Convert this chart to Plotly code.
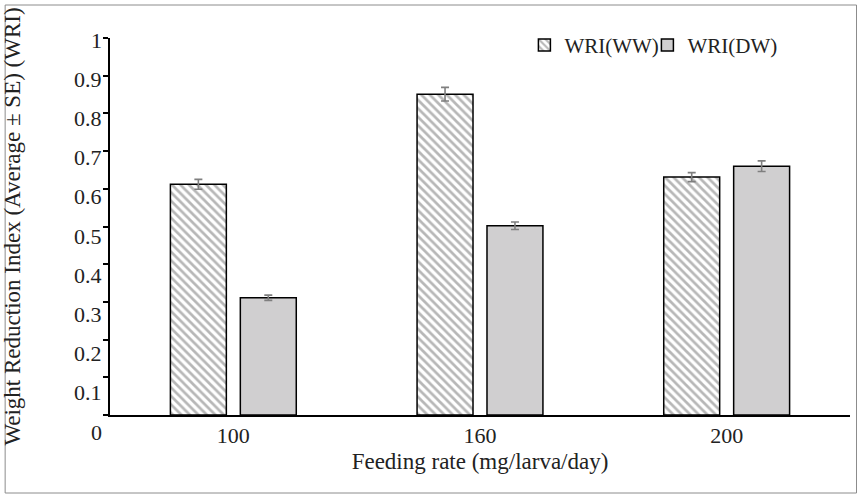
import plotly.graph_objects as go

categories = ["100", "160", "200"]
wri_ww = [0.612, 0.851, 0.631]
wri_ww_se = [0.013, 0.018, 0.012]
wri_dw = [0.311, 0.502, 0.660]
wri_dw_se = [0.007, 0.010, 0.014]
y_tick_vals = [0, 0.1, 0.2, 0.3, 0.4, 0.5, 0.6, 0.7, 0.8, 0.9, 1]
y_tick_text = ["0", "0.1", "0.2", "0.3", "0.4", "0.5", "0.6", "0.7", "0.8", "0.9", "1"]

FONT = "Liberation Serif"
TXT = "#222222"

fig = go.Figure()
fig.add_trace(go.Bar(
    name="WRI(WW)", x=categories, y=wri_ww,
    error_y=dict(type="data", array=wri_ww_se, color="#7f7f7f", thickness=1.6, width=4),
    marker=dict(color="white", line=dict(color="black", width=1.5),
                pattern=dict(shape="\\", fgcolor="#707070", bgcolor="white", size=6, solidity=0.45)),
))
fig.add_trace(go.Bar(
    name="WRI(DW)", x=categories, y=wri_dw,
    error_y=dict(type="data", array=wri_dw_se, color="#7f7f7f", thickness=1.6, width=4),
    marker=dict(color="#d0cfd0", line=dict(color="black", width=1.5)),
))
# invisible spacer entry so the last legend label is not clipped
fig.add_trace(go.Scatter(x=[categories[0]], y=[None], mode="markers", name=" ",
                         marker=dict(color="rgba(0,0,0,0)", size=1), hoverinfo="skip"))

# y tick labels drawn as text beside the axis (slightly offset as in the source)
for v, t in zip(y_tick_vals, y_tick_text):
    fig.add_annotation(x=0, xref="paper", y=v, yref="y", text=t, showarrow=False,
                       xanchor="right", yanchor="middle", xshift=-6, yshift=-(17 - 15 * v),
                       font=dict(family=FONT, size=22, color=TXT))

fig.add_shape(type="rect", xref="paper", yref="paper", x0=-0.1417, x1=1.0088, y0=-0.2069, y1=1.0875,
              line=dict(color="#8c8c8c", width=1))

fig.update_layout(
    width=862, height=498,
    margin=dict(l=109.5, r=11.5, t=38, b=83, autoexpand=False),
    paper_bgcolor="white", plot_bgcolor="white",
    barmode="group", bargap=0.433, bargroupgap=0.2,
    font=dict(family=FONT, size=22, color=TXT),
    showlegend=True,
    legend=dict(orientation="h", x=0.56, xanchor="left", y=1.035, yanchor="top",
                font=dict(family=FONT, size=21, color=TXT), bgcolor="rgba(0,0,0,0)",
                itemwidth=30, entrywidth=78, tracegroupgap=0),
    xaxis=dict(showline=True, linecolor="black", linewidth=1.5, ticks="", showgrid=False,
               automargin=False, range=[-0.5, 2.5], tickfont=dict(family=FONT, size=22, color=TXT),
               title=dict(text="Feeding rate (mg/larva/day)", standoff=6,
                          font=dict(family=FONT, size=23, color=TXT))),
    yaxis=dict(range=[0, 1], tickvals=y_tick_vals, showticklabels=False, showline=True,
               automargin=False, linecolor="black", linewidth=1.5, ticks="outside", ticklen=5,
               tickwidth=1.5, tickcolor="black", showgrid=False, zeroline=False,
               title=dict(text="Weight Reduction Index (Average ± SE) (WRI)", standoff=76,
                          font=dict(family=FONT, size=23, color=TXT))),
)

fig.write_html("out.html", config={"displayModeBar": False},
               post_script="document.body.style.margin='0';")
